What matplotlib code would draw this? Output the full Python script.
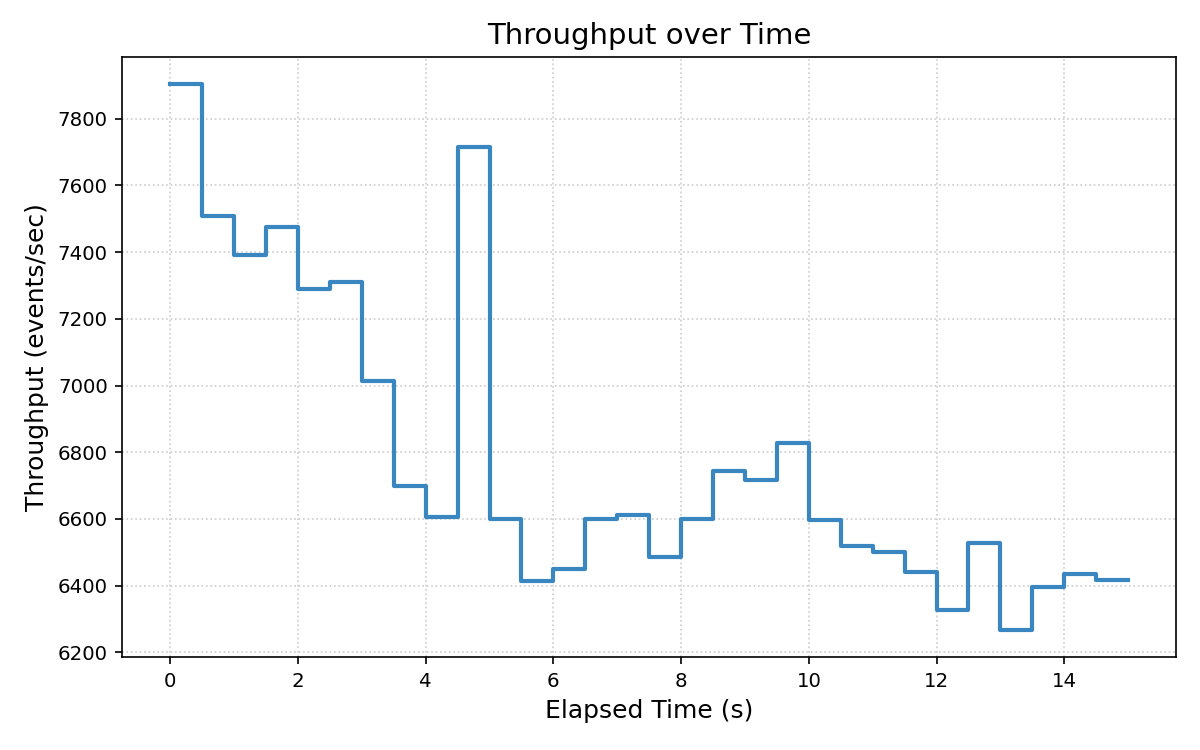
import matplotlib
matplotlib.use("Agg")
import matplotlib.pyplot as plt
import numpy as np

# Throughput samples, one per 0.5 s window (step starts)
elapsed_s = [0.0, 0.5, 1.0, 1.5, 2.0, 2.5, 3.0, 3.5, 4.0, 4.5,
             5.0, 5.5, 6.0, 6.5, 7.0, 7.5, 8.0, 8.5, 9.0, 9.5,
             10.0, 10.5, 11.0, 11.5, 12.0, 12.5, 13.0, 13.5, 14.0, 14.5, 15.0]
throughput = [7903, 7508, 7390, 7475, 7288, 7310, 7015, 6700, 6605, 7716,
              6600, 6414, 6450, 6600, 6611, 6485, 6600, 6745, 6716, 6829,
              6598, 6519, 6501, 6441, 6328, 6528, 6268, 6397, 6435, 6418, 6418]

fig, ax = plt.subplots(figsize=(8, 5), dpi=150)
ax.step(elapsed_s, throughput, where="post", color="#3a86c0", linewidth=2.0)

ax.set_title("Throughput over Time", fontsize=14)
ax.set_xlabel("Elapsed Time (s)", fontsize=12)
ax.set_ylabel("Throughput (events/sec)", fontsize=12)
ax.tick_params(labelsize=9.5)
ax.grid(True, linestyle=":", color="#cccccc", linewidth=0.8)

fig.subplots_adjust(left=0.102, right=0.98, top=0.924, bottom=0.124)
fig.savefig("out.png", dpi=150)
